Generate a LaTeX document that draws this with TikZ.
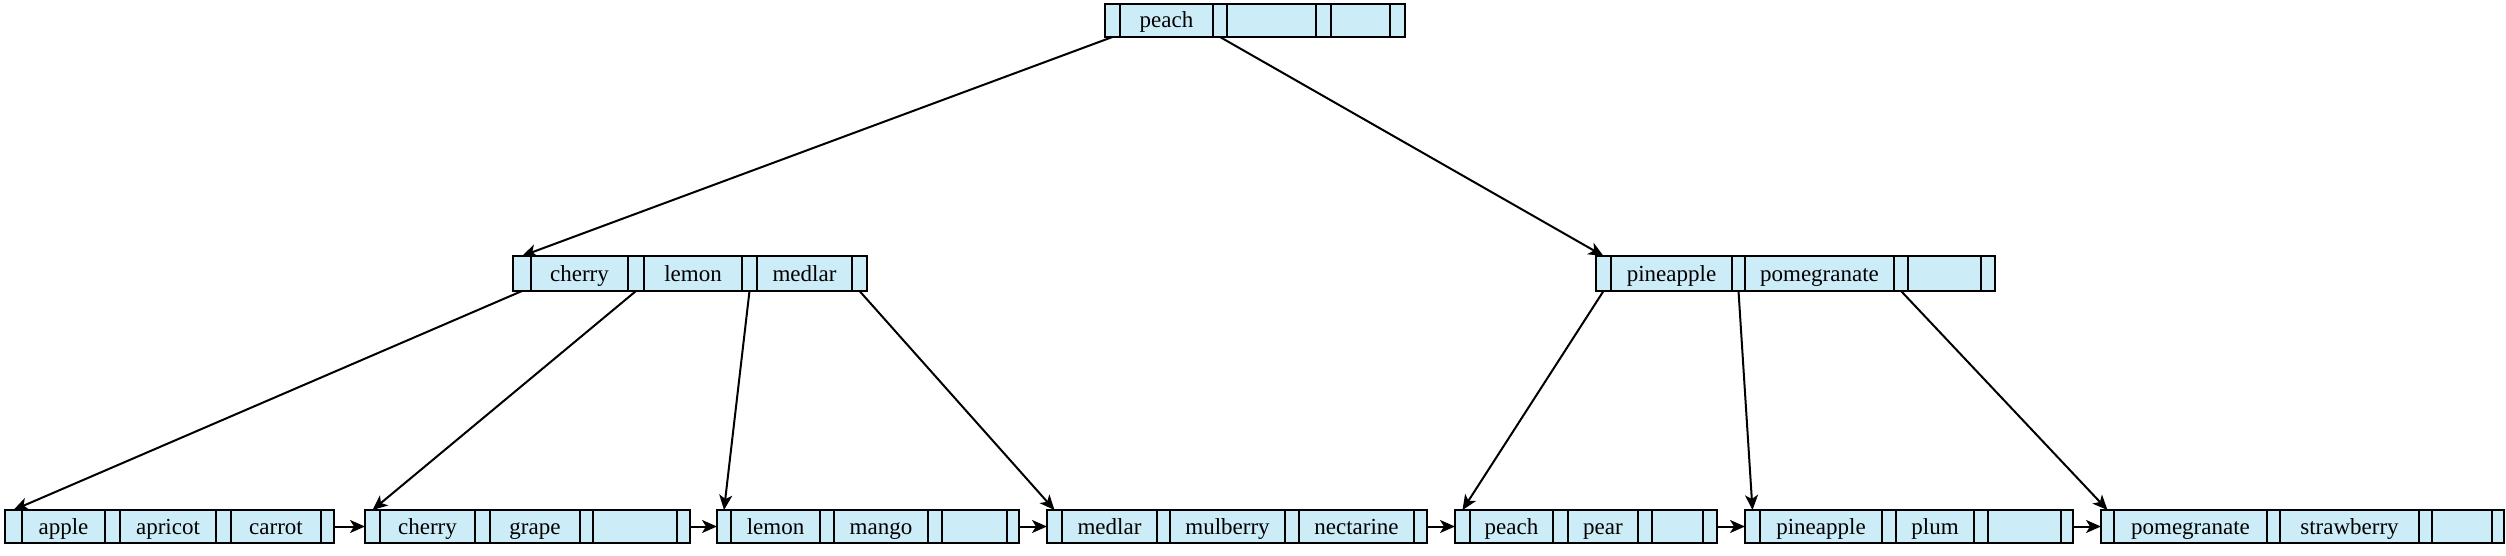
\documentclass[tikz,border=0pt]{standalone}
\usepackage{fontspec}
\setmainfont{Liberation Serif}
\usetikzlibrary{arrows.meta}
\definecolor{cellfill}{RGB}{204,236,248}
\newcommand{\bcell}[6]{%
  \pgfmathsetmacro{\bcW}{(#3-#2)*0.5}%
  \pgfmathsetmacro{\bcH}{(#5-#4)*0.5}%
  \node[cell, minimum width=\bcW pt, minimum height=\bcH pt] (#1) at ({(#2+#3)/2},{(#4+#5)/2}) {#6};}
\newcommand{\bnode}[4]{%
  \foreach \a/\b/\t [count=\i from 0] in {#4} {\bcell{#1-\i}{\a}{\b}{#2}{#3}{\t}}}
\begin{document}
\begin{tikzpicture}[x=0.5pt,y=-0.5pt,
  cell/.style={draw=black, fill=cellfill, line width=1.3pt, inner sep=0pt, outer sep=0pt,
    font=\fontsize{11.5pt}{13pt}\selectfont, text height=10pt, text depth=2.5pt},
  conn/.style={draw=black, line width=1pt, -{Stealth[length=7.5pt,width=6.5pt,inset=2pt]}}]
\useasboundingbox (0,0) rectangle (2506,556);
% root
\bnode{r}{4}{37}{1105/1120/{},1120/1213/peach,1213/1227/{},1227/1316/{},1316/1331/{},1331/1390/{},1390/1405/{}}
% internal
\bnode{a}{256}{291}{513/531/{},531/628/cherry,628/644/{},644/742/lemon,742/757/{},757/852/medlar,852/867/{}}
\bnode{b}{256}{291}{1596/1611/{},1611/1732/pineapple,1732/1745/{},1745/1894/pomegranate,1894/1908/{},1908/1981/{},1981/1995/{}}
% leaves
\bnode{L1}{510}{543}{5/22/{},22/105/apple,105/120/{},120/216/apricot,216/231/{},231/321/carrot,321/334/{}}
\bnode{L2}{510}{543}{365/380/{},380/475/cherry,475/490/{},490/580/grape,580/593/{},593/677/{},677/690/{}}
\bnode{L3}{510}{543}{717/731/{},731/820/lemon,820/834/{},834/928/mango,928/942/{},942/1007/{},1007/1019/{}}
\bnode{L4}{510}{543}{1047/1062/{},1062/1157/medlar,1157/1170/{},1170/1285/mulberry,1285/1299/{},1299/1414/nectarine,1414/1427/{}}
\bnode{L5}{510}{543}{1455/1470/{},1470/1553/peach,1553/1568/{},1568/1638/pear,1638/1652/{},1652/1703/{},1703/1717/{}}
\bnode{L6}{510}{543}{1745/1760/{},1760/1882/pineapple,1882/1896/{},1896/1974/plum,1974/1988/{},1988/2061/{},2061/2073/{}}
\bnode{L7}{510}{543}{2101/2114/{},2114/2267/pomegranate,2267/2280/{},2280/2419/strawberry,2419/2432/{},2432/2492/{},2492/2504/{}}
% tree connectors
\draw[conn] (r-0.south) -- (a-0.north);
\draw[conn] (r-2.south) -- (b-0.north);
\draw[conn] (a-0.south) -- (L1-0.north);
\draw[conn] (a-2.south) -- (L2-0.north);
\draw[conn] (a-4.south) -- (L3-0.north);
\draw[conn] (a-6.south) -- (L4-0.north);
\draw[conn] (b-0.south) -- (L5-0.north);
\draw[conn] (b-2.south) -- (L6-0.north);
\draw[conn] (b-4.south) -- (L7-0.north);
% leaf chain
\draw[conn] (L1-6.east) -- (L2-0.west);
\draw[conn] (L2-6.east) -- (L3-0.west);
\draw[conn] (L3-6.east) -- (L4-0.west);
\draw[conn] (L4-6.east) -- (L5-0.west);
\draw[conn] (L5-6.east) -- (L6-0.west);
\draw[conn] (L6-6.east) -- (L7-0.west);
\end{tikzpicture}
\end{document}
